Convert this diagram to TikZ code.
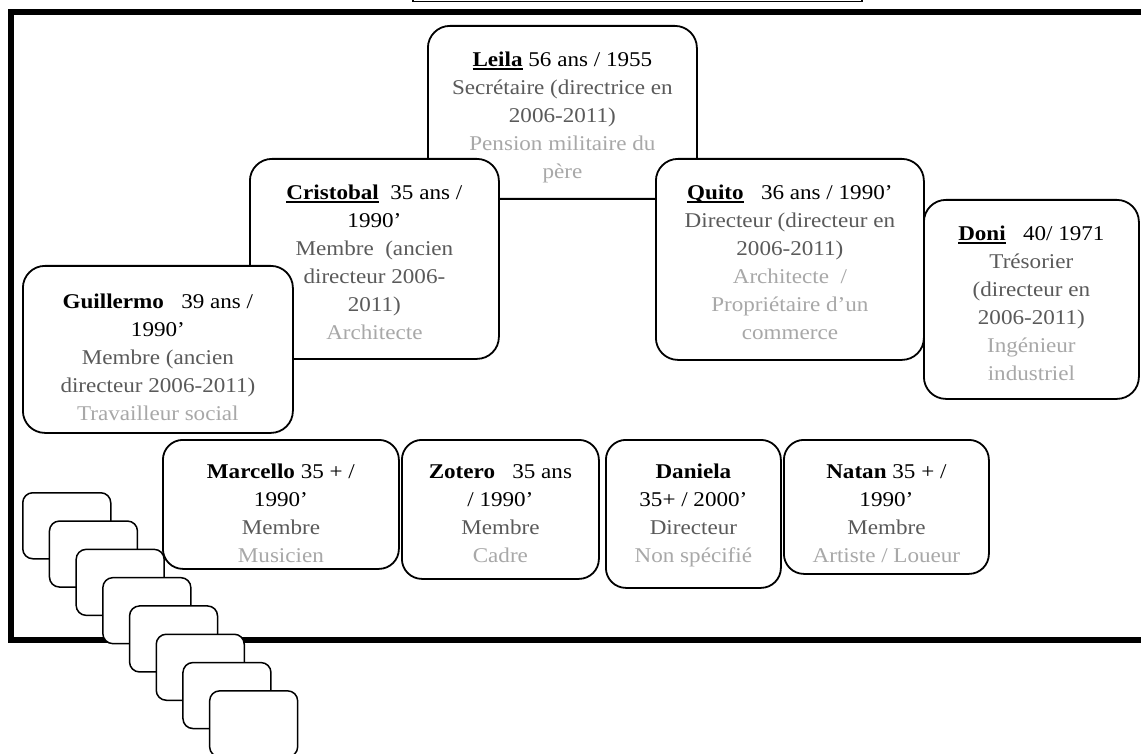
\documentclass[tikz,border=0pt]{standalone}
\usepackage{fontspec}
\setmainfont{Liberation Serif}[FakeStretch=1.1]
\usetikzlibrary{calc}
\definecolor{rolec}{RGB}{90,90,90}
\definecolor{profc}{RGB}{168,168,168}
\newcommand\uname[1]{\setbox0\hbox{\textbf{#1}}\rlap{\rule[-4pt]{\wd0}{1.8pt}}\box0\relax}
\newcommand\firstln{\rule{0pt}{20pt}}
\newcommand\rl[1]{\textcolor{rolec}{#1}}
\newcommand\pf[1]{\textcolor{profc}{#1}}
\tikzset{
  box/.style={draw=black, line width=1.8pt, fill=white, rounded corners=22pt, anchor=north west, inner sep=0pt},
  smallbox/.style={draw=black, line width=1.5pt, fill=white, rounded corners=10pt, anchor=north west, inner sep=0pt, minimum width=88pt, minimum height=66pt},
  txt/.style={align=center, anchor=north, inner sep=0pt, font=\fontsize{21}{28}\selectfont},
  frameline/.style={line width=6pt, line join=miter},
}
\begin{document}
\begin{tikzpicture}[x=1pt, y=-1pt]
\useasboundingbox (0,0) rectangle (1141,754);
% cut-off box at top
\draw[line width=1.8pt] (413,-4) -- (413,1.5) -- (862,1.5) -- (862,-4);
% thick frame
\draw[frameline] (1150,12) -- (10.5,12) -- (10.5,640) -- (1150,640);
% stacked small boxes
\foreach \i in {0,...,7}{
  \node[smallbox] (s\i) at ({22+26.7*\i},{492+28.3*\i}) {};
}
% main boxes
\node[box, minimum width=269pt, minimum height=173pt] (leila) at (427,25) {};
\node[box, minimum width=249pt, minimum height=200pt] (cristobal) at (249,158) {};
\node[box, minimum width=268pt, minimum height=201pt] (quito) at (655,158) {};
\node[box, minimum width=215pt, minimum height=199pt] (doni) at (923,199) {};
\node[box, minimum width=270pt, minimum height=167pt] (guillermo) at (22,265) {};
\node[box, minimum width=236pt, minimum height=129pt, rounded corners=20pt] (marcello) at (162,439) {};
\node[box, minimum width=197pt, minimum height=139pt, rounded corners=20pt] (zotero) at (401,439) {};
\node[box, minimum width=175pt, minimum height=148pt, rounded corners=20pt] (daniela) at (605,439) {};
\node[box, minimum width=205pt, minimum height=134pt, rounded corners=20pt] (natan) at (783,439) {};
% texts
\node[txt] (leilaT) at ($(leila.north)+(0,21)$) {\firstln\uname{Leila} 56 ans / 1955\\ \rl{Secrétaire (directrice en}\\ \rl{2006-2011)}\\ \pf{Pension militaire du}\\ \pf{père}};
\node[txt] (cristobalT) at ($(cristobal.north)+(0,21)$) {\firstln\uname{Cristobal}\ \ 35 ans /\\ 1990’\\ \rl{Membre\ \ (ancien}\\ \rl{directeur 2006-}\\ \rl{2011)}\\ \pf{Architecte}};
\node[txt] (quitoT) at ($(quito.north)+(0,21)$) {\firstln\uname{Quito}\ \ \ 36 ans / 1990’\\ \rl{Directeur (directeur en}\\ \rl{2006-2011)}\\ \pf{Architecte\ \ /}\\ \pf{Propriétaire d’un}\\ \pf{commerce}};
\node[txt] (doniT) at ($(doni.north)+(0,21)$) {\firstln\uname{Doni}\ \ \ 40/ 1971\\ \rl{Trésorier}\\ \rl{(directeur en}\\ \rl{2006-2011)}\\ \pf{Ingénieur}\\ \pf{industriel}};
\node[txt] (guillermoT) at ($(guillermo.north)+(0,23)$) {\firstln\textbf{Guillermo}\ \ \ 39 ans /\\ 1990’\\ \rl{Membre (ancien}\\ \rl{directeur 2006-2011)}\\ \pf{Travailleur social}};
\node[txt] (marcelloT) at ($(marcello.north)+(0,19)$) {\firstln\textbf{Marcello} 35 + /\\ 1990’\\ \rl{Membre}\\ \pf{Musicien}};
\node[txt] (zoteroT) at ($(zotero.north)+(0,19)$) {\firstln\textbf{Zotero}\ \ \ 35 ans\\ / 1990’\\ \rl{Membre}\\ \pf{Cadre}};
\node[txt] (danielaT) at ($(daniela.north)+(0,19)$) {\firstln\textbf{Daniela}\\ 35+ / 2000’\\ \rl{Directeur}\\ \pf{Non spécifié}};
\node[txt] (natanT) at ($(natan.north)+(0,19)$) {\firstln\textbf{Natan} 35 + /\\ 1990’\\ \rl{Membre}\\ \pf{Artiste / Loueur}};
\end{tikzpicture}
\end{document}
